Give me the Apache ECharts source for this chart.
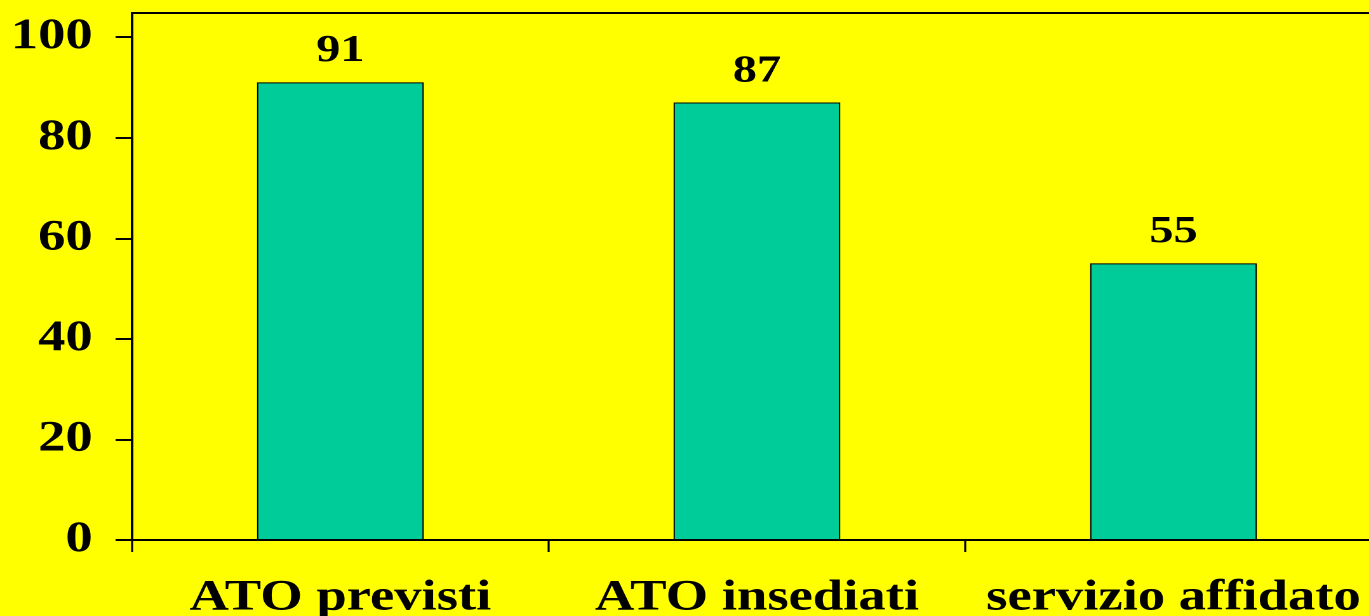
<!DOCTYPE html>
<html>
<head>
<meta charset="utf-8">
<script src="https://cdn.jsdelivr.net/npm/echarts@6/dist/echarts.min.js"></script>
<style>
  html, body { margin: 0; padding: 0; background: #FFFF00; overflow: hidden; }
  #wrap { width: 1369px; height: 616px; overflow: hidden; }
  /* the chart is laid out narrower and widened horizontally, giving the wide serif lettering */
  #chart { width: 1078px; height: 616px; transform: scaleX(1.27); transform-origin: 0 0; }
</style>
</head>
<body>
<div id="wrap"><div id="chart"></div></div>
<script>
// categories and values
const categories = ['ATO previsti', 'ATO insediati', 'servizio affidato'];
const counts = [91, 87, 55];
// y-axis tick labels
const yTicks = [0, 20, 40, 60, 80, 100];
const yTop = 104.8;

const serif = '"Liberation Serif", "Times New Roman", serif';

const chart = echarts.init(document.getElementById('chart'), null, { renderer: 'canvas', devicePixelRatio: 2 });

chart.setOption({
  backgroundColor: '#FFFF00',
  animation: false,
  grid: {
    left: 104,
    top: 13,
    width: 984,
    bottom: 76,
    outerBoundsMode: 'none',
    containLabel: false,
    show: true,
    backgroundColor: '#FFFF00',
    borderColor: '#000',
    borderWidth: 2
  },
  xAxis: {
    type: 'category',
    data: categories,
    axisLine: { lineStyle: { color: '#000', width: 2 } },
    axisTick: { show: true, interval: 0, length: 12, lineStyle: { color: '#000', width: 1.6 } },
    axisLabel: {
      interval: 0,
      hideOverlap: false,
      color: '#000',
      fontFamily: serif,
      fontWeight: 'bold',
      fontSize: 43,
      margin: 37
    }
  },
  yAxis: {
    type: 'value',
    min: 0,
    max: yTop,
    splitLine: { show: false },
    axisLine: { show: true, lineStyle: { color: '#000', width: 1.6 } },
    axisTick: { show: true, length: 13, customValues: yTicks, lineStyle: { color: '#000', width: 2 } },
    axisLabel: {
      customValues: yTicks,
      color: '#000',
      fontFamily: serif,
      fontWeight: 'bold',
      fontSize: 43,
      margin: 31
    }
  },
  series: [{
    type: 'bar',
    data: counts,
    barWidth: '40%',
    itemStyle: { color: '#00CC99', borderColor: '#000', borderWidth: 1 },
    label: {
      show: true,
      position: 'top',
      distance: 12,
      color: '#000',
      fontFamily: serif,
      fontWeight: 'bold',
      fontSize: 38
    }
  }]
});
</script>
</body>
</html>
